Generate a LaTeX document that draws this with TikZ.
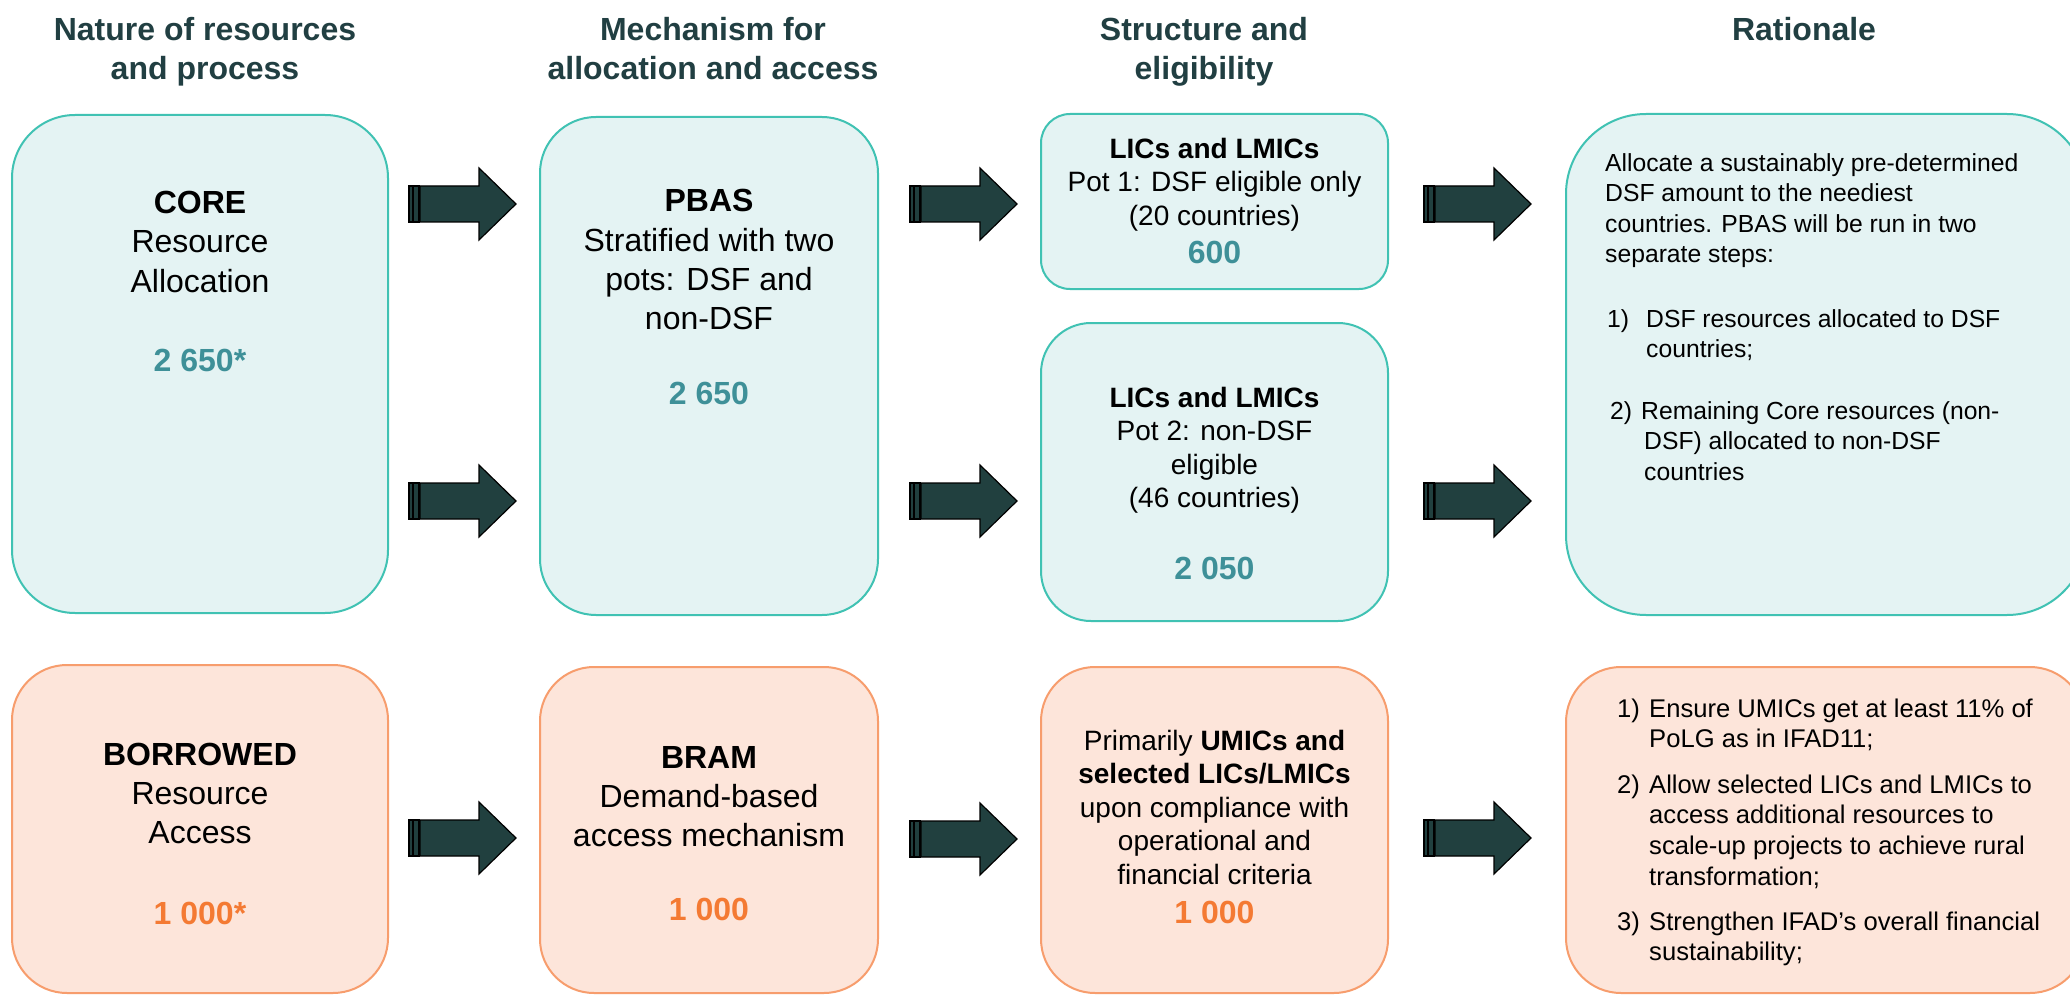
\documentclass[tikz,border=0pt]{standalone}
\usepackage{fontspec}
\setmainfont{Liberation Sans}
\definecolor{tealfill}{HTML}{E4F3F3}
\definecolor{tealline}{HTML}{40C2B3}
\definecolor{tealnum}{HTML}{3E9098}
\definecolor{orangefill}{HTML}{FDE5DA}
\definecolor{orangeline}{HTML}{F79D6D}
\definecolor{orangenum}{HTML}{F47A33}
\definecolor{hdr}{HTML}{213F42}
\definecolor{arrowfill}{HTML}{21403F}
\newcommand\tnum[1]{{\fontsize{32}{34}\selectfont\bfseries\color{tealnum}#1}}
\newcommand\onum[1]{{\fontsize{32}{34}\selectfont\bfseries\color{orangenum}#1}}
\tikzset{
  tealbox/.style={draw=tealline, fill=tealfill, line width=2pt, rectangle, inner sep=0pt},
  orangebox/.style={draw=orangeline, fill=orangefill, line width=2pt, rectangle, inner sep=0pt},
  bodytxt/.style={align=center, inner sep=0pt, anchor=base, font=\fontsize{32}{39.3}\selectfont},
  smalltxt/.style={align=center, inner sep=0pt, anchor=base, font=\fontsize{28}{33.5}\selectfont},
  ratxt/.style={align=left, inner sep=0pt, anchor=base west, font=\fontsize{24.7}{30.5}\selectfont},
  rbtxt/.style={align=left, inner sep=0pt, anchor=base west, font=\fontsize{25.6}{30.8}\selectfont},
  hdrtxt/.style={align=center, inner sep=0pt, anchor=base, text=hdr, font=\fontsize{32}{39}\selectfont\bfseries},
  blockarrow/.pic={
    \filldraw[fill=arrowfill, draw=black, line width=1.2pt] (0,-18) rectangle (3.3,18);
    \filldraw[fill=arrowfill, draw=black, line width=1.2pt] (4.3,-18) rectangle (10,18);
    \filldraw[fill=arrowfill, draw=black, line width=1.2pt]
      (11,-18) -- (70,-18) -- (70,-36) -- (107,0) -- (70,36) -- (70,18) -- (11,18) -- cycle;
  }
}
\begin{document}
\begin{tikzpicture}[x=1pt, y=-1pt]
\useasboundingbox (0,0) rectangle (2070,995);
\clip (0,0) rectangle (2070,995);
\fill[white] (0,0) rectangle (2070,995);

% headers (anchor = baseline of last line)
\node[hdrtxt] (h1) at (205,80) {Nature of resources\\and process};
\node[hdrtxt] (h2) at (713,80) {Mechanism for\\allocation and access};
\node[hdrtxt] (h3) at (1204,80) {Structure and\\eligibility};
\node[hdrtxt] (h4) at (1804,41) {Rationale};

% top row boxes
\node[tealbox, minimum width=376pt, minimum height=498pt, rounded corners=63pt] (b1) at (200,364) {};
\node[tealbox, minimum width=338pt, minimum height=498pt, rounded corners=56pt] (b2) at (709,366) {};
\node[tealbox, minimum width=347pt, minimum height=175pt, rounded corners=29pt] (b3a) at (1214.5,201.5) {};
\node[tealbox, minimum width=347pt, minimum height=298pt, rounded corners=50pt] (b3b) at (1214.5,472) {};
\node[tealbox, minimum width=521pt, minimum height=501pt, rounded corners=80pt] (b4) at (1826.5,364.5) {};

% bottom row boxes
\node[orangebox, minimum width=376pt, minimum height=328pt, rounded corners=55pt] (b5) at (200,829) {};
\node[orangebox, minimum width=338pt, minimum height=326pt, rounded corners=54pt] (b6) at (709,830) {};
\node[orangebox, minimum width=347pt, minimum height=326pt, rounded corners=54pt] (b7) at (1214.5,830) {};
\node[orangebox, minimum width=519pt, minimum height=326pt, rounded corners=55pt] (b8) at (1825.5,830) {};

% texts
\node[bodytxt] (t1) at (200,371) {\textbf{CORE}\\Resource\\Allocation\\[39.5pt]\tnum{2 650*}};
\node[bodytxt] (t2) at (709,404) {\textbf{PBAS}\\Stratified with two\\pots: DSF and\\non-DSF\\[35pt]\tnum{2 650}};
\node[smalltxt] (t3a) at (1214.5,263) {\textbf{LICs and LMICs}\\Pot 1: DSF eligible only\\(20 countries)\\[4.5pt]\tnum{600}};
\node[smalltxt] (t3b) at (1214.5,579) {\textbf{LICs and LMICs}\\Pot 2: non-DSF\\eligible\\(46 countries)\\[38pt]\tnum{2 050}};

\node[ratxt] (r1) at (1605,262.5) {Allocate a sustainably pre-determined\\DSF amount to the neediest\\countries. PBAS will be run in two\\separate steps:};
\node[ratxt] (r2n) at (1607,327) {1)};
\node[ratxt] (r2) at (1646,357.5) {DSF resources allocated to DSF\\countries;};
\node[ratxt] (r3n) at (1610,419) {2)};
\node[ratxt] (r3) at (1641,480) {Remaining Core resources (non-\\\hspace*{3pt}DSF) allocated to non-DSF\\\hspace*{3pt}countries};

\node[bodytxt] (t5) at (200,924) {\textbf{BORROWED}\\Resource\\Access\\[41pt]\onum{1 000*}};
\node[bodytxt] (t6) at (709,920) {\textbf{BRAM}\\Demand-based\\access mechanism\\[34pt]\onum{1 000}};
\node[smalltxt] (t7) at (1214.5,923) {Primarily \textbf{UMICs and}\\\textbf{selected LICs/LMICs}\\upon compliance with\\operational and\\financial criteria\\[5.5pt]\onum{1 000}};

\node[rbtxt] (s1n) at (1617,717) {1)};
\node[rbtxt] (s1) at (1649,747.8) {Ensure UMICs get at least 11\% of\\PoLG as in IFAD11;};
\node[rbtxt] (s2n) at (1617,793) {2)};
\node[rbtxt] (s2) at (1649,885.4) {Allow selected LICs and LMICs to\\access additional resources to\\scale-up projects to achieve rural\\transformation;};
\node[rbtxt] (s3n) at (1617,930) {3)};
\node[rbtxt] (s3) at (1649,960.8) {Strengthen IFAD’s overall financial\\sustainability;};

% block arrows
\pic (a11) at (409,204) {blockarrow};
\pic (a12) at (910,204) {blockarrow};
\pic (a13) at (1424,204) {blockarrow};
\pic (a21) at (409,501) {blockarrow};
\pic (a22) at (910,501) {blockarrow};
\pic (a23) at (1424,501) {blockarrow};
\pic (a31) at (409,838) {blockarrow};
\pic (a32) at (910,839) {blockarrow};
\pic (a33) at (1424,838) {blockarrow};
\end{tikzpicture}
\end{document}
